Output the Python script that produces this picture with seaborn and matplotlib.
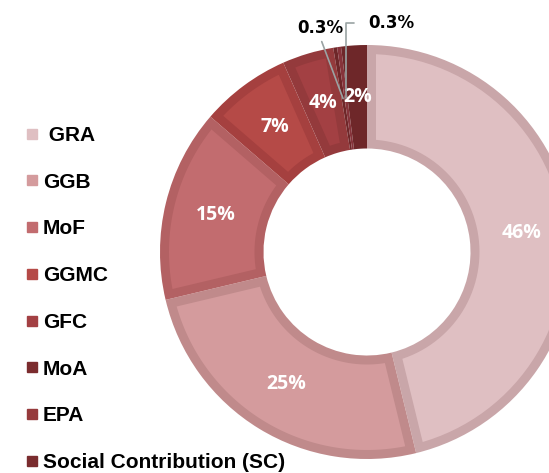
import numpy as np
import seaborn as sns
from matplotlib import pyplot as plt
from matplotlib.lines import Line2D
from matplotlib.patches import Polygon

sns.set_style("white")
plt.rcParams['font.family'] = ['Liberation Sans', 'DejaVu Sans']

# data
labels = [" GRA", "GGB", "MoF", "GGMC", "GFC", "MoA", "EPA", "Social Contribution (SC)"]
shares = [46, 25, 15, 7, 4, 0.3, 0.3, 2]
pct_text = ["46%", "25%", "15%", "7%", "4%", "0.3%", "0.3%", "2%"]

fills = ["#dfbfc2", "#d49b9d", "#c26c6f", "#b54a47", "#a34043", "#7b2c2e", "#963a3c", "#7a2c2e"]
borders = ["#c9a6a9", "#c08a8b", "#b36163", "#a5403f", "#943a3c", "#6e2729", "#86333a", "#6e2729"]

W, H = 549, 473
cx, cy, R = 367, 252, 207  # pie centre / radius in pixels
band = 9 / R               # width of the darker rim on each slice
r_out, r_in = 1.0, 0.5

fig = plt.figure(figsize=(W / 100, H / 100), dpi=100)
ax = fig.add_axes([0, 0, 1, 1])

# ring in the rim colours
wedges, _ = ax.pie(shares, colors=borders, startangle=90, counterclock=False,
                   radius=r_out, wedgeprops=dict(width=r_out - r_in, linewidth=0))


def inset_wedge(t1, t2, ro, ri, b):
    # wedge shrunk by a constant distance b from every side
    a, c = ro - b, ri + b
    da_o, da_i = np.degrees(np.arcsin(b / a)), np.degrees(np.arcsin(b / c))
    if t2 - t1 <= 2 * da_i:
        return None
    outer = np.linspace(t1 + da_o, t2 - da_o, 60)
    inner = np.linspace(t2 - da_i, t1 + da_i, 60)
    pts = np.r_[np.c_[a * np.cos(np.radians(outer)), a * np.sin(np.radians(outer))],
                np.c_[c * np.cos(np.radians(inner)), c * np.sin(np.radians(inner))]]
    return pts


for w, fc in zip(wedges, fills):
    pts = inset_wedge(w.theta1, w.theta2, r_out, r_in, band)
    if pts is not None:
        ax.add_patch(Polygon(pts, closed=True, facecolor=fc, edgecolor="none"))

ax.set_aspect('auto')
ax.set_xlim(-cx / R, (W - cx) / R)
ax.set_ylim(-(H - cy) / R, cy / R)
ax.axis('off')

# labels inside the ring
for i, w in enumerate(wedges):
    mid = np.deg2rad((w.theta1 + w.theta2) / 2)
    x, y = 0.75 * np.cos(mid), 0.75 * np.sin(mid)
    if shares[i] >= 1:
        ax.text(x, y, pct_text[i], color="white", fontsize=14, fontweight="bold",
                family=["Open Sans", "DejaVu Sans"], ha="center", va="center")

# the two tiny slices get leader lines
w_moa, w_epa = wedges[5], wedges[6]
mid = np.deg2rad((w_moa.theta1 + w_moa.theta2) / 2)
ax.annotate(pct_text[5], xy=(0.75 * np.cos(mid), 0.75 * np.sin(mid)),
            xytext=((320 - cx) / R, (cy - 28) / R), ha="center", va="center",
            fontsize=12, fontweight="bold", family="DejaVu Sans", color="black",
            arrowprops=dict(arrowstyle="-", color="#9aa3a3", lw=1.2,
                            relpos=(0.5, 0), shrinkA=1, shrinkB=0))
mid = np.deg2rad((w_epa.theta1 + w_epa.theta2) / 2)
ax.annotate(pct_text[6], xy=(0.75 * np.cos(mid), 0.75 * np.sin(mid)),
            xytext=((368 - cx) / R, (cy - 23) / R), ha="left", va="center",
            fontsize=12, fontweight="bold", family="DejaVu Sans", color="black",
            arrowprops=dict(arrowstyle="-", color="#9aa3a3", lw=1.2,
                            connectionstyle="angle,angleA=0,angleB=90,rad=0",
                            relpos=(0, 0.5), shrinkA=8, shrinkB=0))

handles = [Line2D([], [], marker="s", linestyle="", markersize=7.5, color=c) for c in fills]
leg = fig.legend(handles, labels, loc="upper left", bbox_to_anchor=(26 / W, 1 - 126 / H),
                 bbox_transform=fig.transFigure, frameon=False, borderpad=0, borderaxespad=0,
                 handlelength=0.55, handletextpad=0.25, labelspacing=1.33,
                 prop=dict(family="Liberation Sans", weight="bold", size=15))
for t in leg.get_texts():
    t.set_color("black")

fig.savefig("out.png", dpi=100)
